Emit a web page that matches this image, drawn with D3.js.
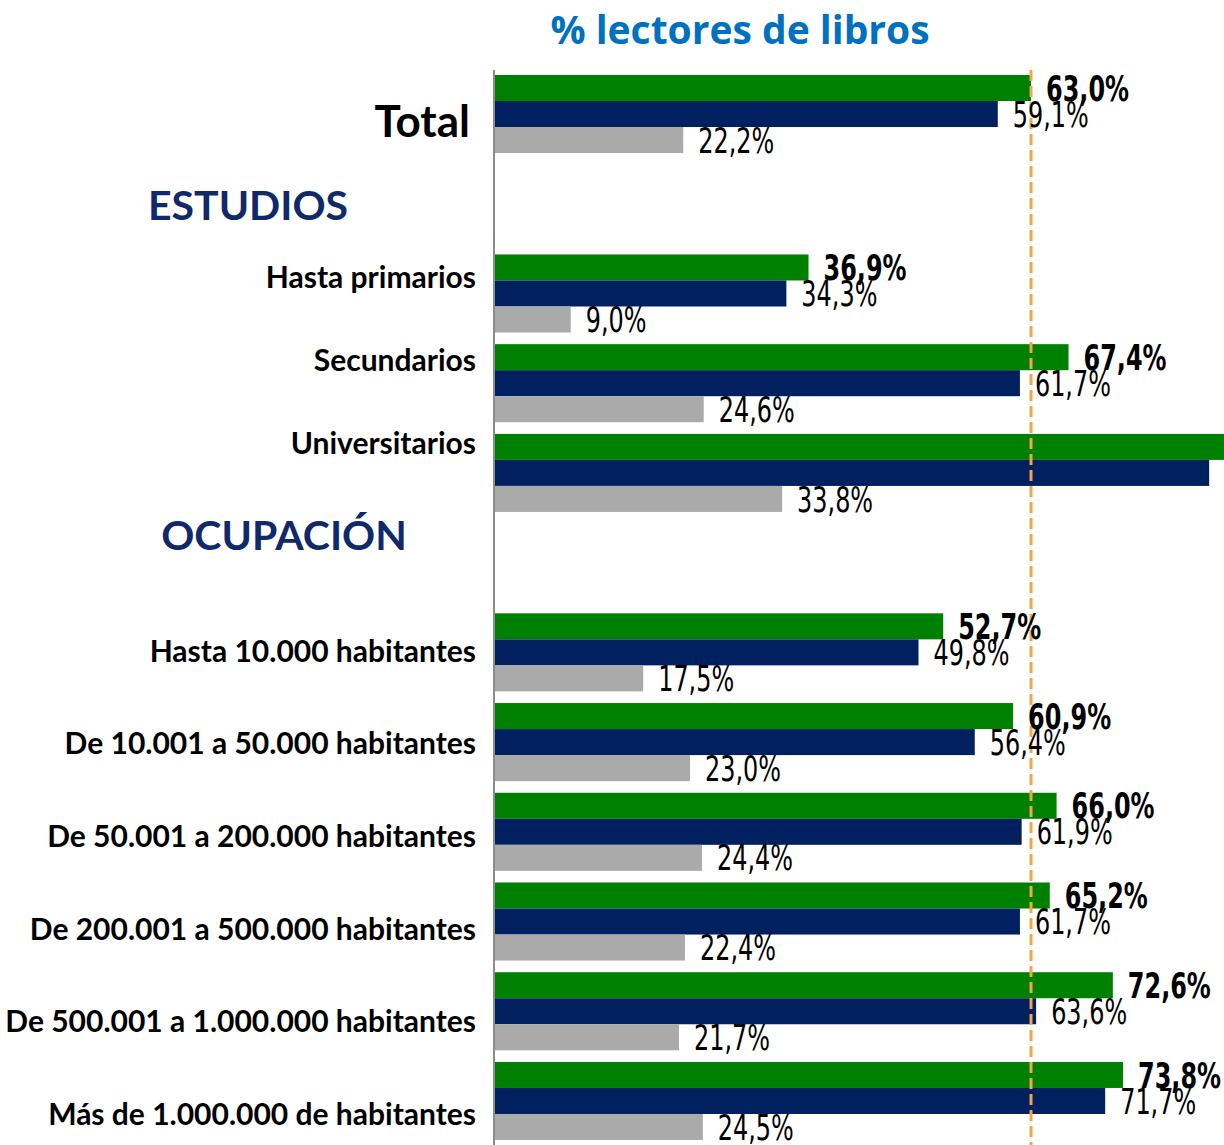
<!DOCTYPE html>
<html>
<head>
<meta charset="utf-8">
<script src="https://cdn.jsdelivr.net/npm/d3@7"></script>
<style>
  body { margin: 0; background: #fff; }
  svg { display: block; }
  .cat { font-family: Lato, "Noto Sans", sans-serif; font-weight: 700; fill: #000; }
  .val { font-family: "DejaVu Sans Condensed", "Liberation Sans Narrow", sans-serif; fill: #000; }
</style>
</head>
<body>
<div class="chart"></div>
<script>
// Filas del gráfico (los huecos son las cabeceras de sección).
const rows = [
  "Total",
  "ESTUDIOS",
  "Hasta primarios",
  "Secundarios",
  "Universitarios",
  "OCUPACIÓN",
  "Hasta 10.000 habitantes",
  "De 10.001 a 50.000 habitantes",
  "De 50.001 a 200.000 habitantes",
  "De 200.001 a 500.000 habitantes",
  "De 500.001 a 1.000.000 habitantes",
  "Más de 1.000.000 de habitantes",
];
const sections = ["ESTUDIOS", "OCUPACIÓN"];

// Valores (%) por serie, null en las cabeceras.
const serieVerde = [63.0, null, 36.9, 67.4, 87.6, null, 52.7, 60.9, 66.0, 65.2, 72.6, 73.8];
const serieAzul  = [59.1, null, 34.3, 61.7, 83.9, null, 49.8, 56.4, 61.9, 61.7, 63.6, 71.7];
const serieGris  = [22.2, null, 9.0, 24.6, 33.8, null, 17.5, 23.0, 24.4, 22.4, 21.7, 24.5];
const series = ["verde", "azul", "gris"];
const referencia = 63.0; // línea discontinua

const colors = { verde: "#008000", azul: "#00205f", gris: "#aaaaaa" };

const W = 1224, H = 1145;
const axisX = 494;

const svg = d3.select(".chart").append("svg")
  .attr("width", W).attr("height", H);

// Scales.
const x = d3.scaleLinear().domain([0, 100]).range([axisX, axisX + 852.4]);
const y = d3.scaleBand().domain(rows).range([75, 1140]).paddingInner(0.13).paddingOuter(0);
const ySub = d3.scaleBand().domain(series).range([0, y.bandwidth()]);

const table = [];
rows.forEach((r, i) => {
  if (sections.includes(r)) return;
  table.push({ row: r, s: "verde", v: serieVerde[i] });
  table.push({ row: r, s: "azul", v: serieAzul[i] });
  table.push({ row: r, s: "gris", v: serieGris[i] });
});

// Title.
svg.append("text")
  .attr("x", 740).attr("y", 44)
  .attr("text-anchor", "middle")
  .style("font-family", "'Open Sans', sans-serif")
  .style("font-weight", 700)
  .style("font-size", "39px")
  .style("fill", "#0070c0")
  .text("% lectores de libros");

// Bars.
svg.append("g").selectAll("rect")
  .data(table).join("rect")
  .attr("x", x(0))
  .attr("y", d => y(d.row) + ySub(d.s))
  .attr("width", d => x(d.v) - x(0))
  .attr("height", ySub.bandwidth())
  .attr("fill", d => colors[d.s]);

// Axis line.
svg.append("line")
  .attr("x1", axisX).attr("x2", axisX)
  .attr("y1", 70).attr("y2", H)
  .attr("stroke", "#8c8c8c").attr("stroke-width", 2);

// Reference line.
svg.append("line")
  .attr("x1", x(referencia)).attr("x2", x(referencia))
  .attr("y1", 70).attr("y2", H)
  .attr("stroke", "#f4a546").attr("stroke-width", 3)
  .attr("stroke-dasharray", "11,5");

// Value labels (narrow, tall figures).
const fmt = v => v.toFixed(1).replace(".", ",") + "%";
svg.append("g").selectAll("text")
  .data(table).join("text")
  .attr("class", "val")
  .attr("transform", d =>
    `translate(${x(d.v) + 15}, ${y(d.row) + ySub(d.s) + ySub.bandwidth() / 2}) scale(0.76, 1)`)
  .attr("dy", "0.36em")
  .style("font-size", "35px")
  .style("font-weight", d => d.s === "verde" ? 700 : 400)
  .text(d => fmt(d.v));

// Category labels.
const estY = d3.scaleLinear().domain([2, 4]).range([277, 443]);
const ocuY = d3.scaleLinear().domain([6, 11]).range([651, 1114]);

const cats = svg.append("g");
rows.forEach((r, i) => {
  if (r === "Total") {
    cats.append("text").attr("class", "cat")
      .attr("x", 470).attr("y", 121).attr("dy", "0.36em")
      .attr("text-anchor", "end")
      .style("font-size", "44px")
      .text(r);
  } else if (sections.includes(r)) {
    cats.append("text").attr("class", "cat")
      .attr("x", r === "ESTUDIOS" ? 248 : 284)
      .attr("y", r === "ESTUDIOS" ? 205 : 535).attr("dy", "0.36em")
      .attr("text-anchor", "middle")
      .style("font-size", "41px")
      .style("fill", "#10296b")
      .text(r);
  } else {
    cats.append("text").attr("class", "cat")
      .attr("x", 476)
      .attr("y", i < 5 ? estY(i) : ocuY(i)).attr("dy", "0.36em")
      .attr("text-anchor", "end")
      .style("font-size", "30px")
      .text(r);
  }
});
</script>
</body>
</html>
